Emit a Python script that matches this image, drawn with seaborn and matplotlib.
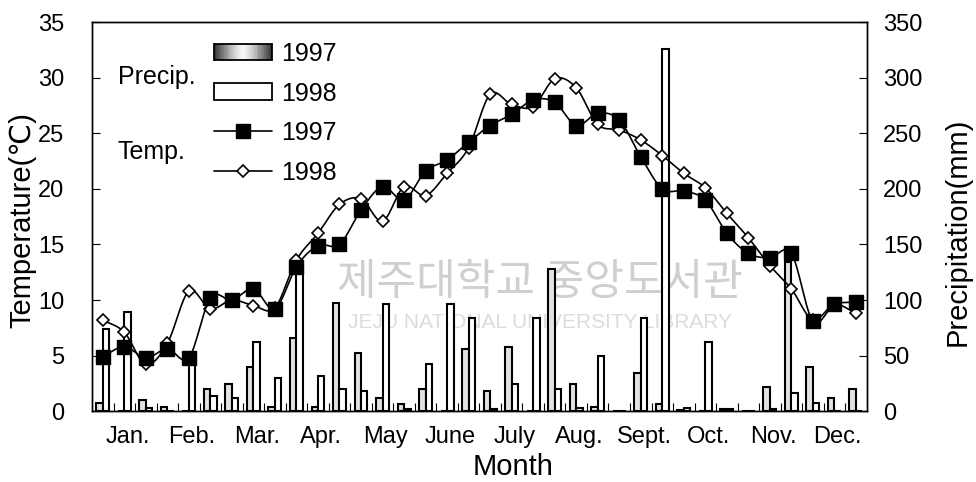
import numpy as np
import pandas as pd
import matplotlib
matplotlib.use("Agg")
from matplotlib import pyplot as plt
from matplotlib.patches import Rectangle
from matplotlib.lines import Line2D
from matplotlib.legend_handler import HandlerBase
import seaborn as sns

# 36 ten-day periods (3 per month)
months = ["Jan.", "Feb.", "Mar.", "Apr.", "May", "June",
          "July", "Aug.", "Sept.", "Oct.", "Nov.", "Dec."]
dekads = list(range(36))

temp_1997 = [4.9, 5.8, 4.8, 5.6, 4.8, 10.2, 10.0, 11.0, 9.2, 13.0, 14.9, 15.0,
             18.1, 20.2, 19.0, 21.6, 22.6, 24.2, 25.7, 26.7, 28.0, 27.8, 25.7, 26.8,
             26.2, 22.9, 20.0, 19.8, 19.0, 16.0, 14.2, 13.8, 14.2, 8.1, 9.6, 9.8]
temp_1998 = [8.2, 7.1, 4.2, 6.1, 10.8, 9.2, 10.0, 9.5, 9.3, 13.6, 16.0, 18.6,
             19.1, 17.1, 20.2, 19.4, 21.4, 23.7, 28.5, 27.6, 27.4, 29.9, 29.1, 25.8,
             25.3, 24.4, 23.0, 21.4, 20.1, 17.8, 15.6, 13.1, 11.0, 8.2, 9.6, 8.8]

prec_1997 = [7.5, 0, 10, 4, 0, 20, 24, 40, 4, 66, 4, 97,
             52, 12, 6, 20, 0, 56, 18, 58, 0, 128, 24, 4,
             0, 34, 6, 1, 0, 1.5, 0, 22, 134, 40, 12, 20]
prec_1998 = [74, 89, 3, 0, 48, 14, 12, 62, 30, 130, 32, 20,
             18, 96, 1.5, 42, 96, 84, 1.5, 24, 84, 20, 3, 50,
             0, 84, 326, 3, 62, 1.5, 0, 1.5, 16, 7, 0, 0]

sns.set_style("ticks")
plt.rcParams["font.family"] = ["Liberation Sans", "DejaVu Sans"]
plt.rcParams["text.color"] = "black"
plt.rcParams["axes.labelcolor"] = "black"
plt.rcParams["xtick.color"] = "black"
plt.rcParams["ytick.color"] = "black"


def smooth(y, n=16):
    # catmull-rom curve through the points (like Excel's smoothed line)
    y = np.asarray(y, dtype=float)
    pts = np.column_stack([np.arange(len(y), dtype=float), y])
    pts = np.vstack([2 * pts[0] - pts[1], pts, 2 * pts[-1] - pts[-2]])
    t = np.linspace(0, 1, n, endpoint=False)[:, None]
    out = []
    for i in range(len(y) - 1):
        p0, p1, p2, p3 = pts[i], pts[i + 1], pts[i + 2], pts[i + 3]
        out.append(0.5 * (2 * p1 + (p2 - p0) * t
                          + (2 * p0 - 5 * p1 + 4 * p2 - p3) * t ** 2
                          + (3 * p1 - p0 - 3 * p2 + p3) * t ** 3))
    out.append(pts[-2][None, :])
    out = np.vstack(out)
    return out[:, 0], out[:, 1]


def shade(t):
    # grey level across the 1997 swatch: dark edges, white middle
    return np.clip(0.97 - 0.78 * np.abs(2 * t - 1) ** 1.3, 0, 1)


class GradientHandler(HandlerBase):
    def create_artists(self, legend, orig_handle, xdescent, ydescent,
                       width, height, fontsize, trans):
        n = 30
        arts = []
        for i in range(n):
            g = shade((i + 0.5) / n)
            arts.append(Rectangle((-xdescent + width * i / n, -ydescent), width / n + 0.3, height,
                                  facecolor=(g, g, g), edgecolor="none", transform=trans))
        arts.append(Rectangle((-xdescent, -ydescent), width, height, facecolor="none",
                              edgecolor="black", linewidth=1.3, transform=trans))
        return arts


fig, ax = plt.subplots(figsize=(9.76, 4.82), dpi=100)
fig.subplots_adjust(left=0.0943, right=0.888, bottom=0.147, top=0.954)
ax2 = ax.twinx()

# precipitation bars (right axis)
df = pd.DataFrame({
    "dekad": dekads * 2,
    "year": ["1997"] * 36 + ["1998"] * 36,
    "prec": prec_1997 + prec_1998,
})
sns.barplot(data=df, x="dekad", y="prec", hue="year", ax=ax2, width=0.6,
            palette={"1997": "#e2e2e2", "1998": "white"}, edgecolor="black",
            linewidth=1.5, saturation=1, errorbar=None, legend=False)
ax2.set_ylim(0, 350)
ax2.set_yticks(range(0, 351, 50))
ax2.set_xlabel("")
ax2.set_ylabel("Precipitation(mm)", fontsize=21)
ax2.yaxis.set_label_coords(1.099, 0.462)
ax2.tick_params(axis="y", direction="in", length=6, width=0.8, labelsize=17, pad=12)

# watermark
ax2.text(0.578, 0.329, "제주대학교 중앙도서관", transform=ax2.transAxes, ha="center", va="center",
         fontsize=31, color="#cfcfcf", family=["Noto Sans CJK KR", "DejaVu Sans"], zorder=0)
ax2.text(0.578, 0.229, "JEJU NATIONAL UNIVERSITY LIBRARY", transform=ax2.transAxes,
         ha="center", va="center", fontsize=15, color="#dcdcdc", zorder=0)

# temperature lines (left axis) on top of the bars
ax.set_zorder(ax2.get_zorder() + 1)
ax.patch.set_visible(False)

xs, ys = smooth(temp_1998)
ax.plot(xs, ys, color="black", lw=1.2)
ax.plot(dekads, temp_1998, ls="none", marker="D", ms=6.5, mfc="white", mec="black", mew=1.2)
xs, ys = smooth(temp_1997)
ax.plot(xs, ys, color="black", lw=1.2)
ax.plot(dekads, temp_1997, ls="none", marker="s", ms=10.5, mfc="black", mec="black")

ax.set_ylim(0, 35)
ax.set_yticks(range(0, 36, 5))
ax.set_xlim(-0.5, 35.5)
ax.set_xticks([1.15 + 3 * i for i in range(12)])
ax.set_xticklabels(months)
ax.set_xticks(np.arange(0.5, 35, 1), minor=True)
ax.tick_params(axis="x", which="major", length=0, labelsize=17, pad=11)
ax.tick_params(axis="x", which="minor", direction="in", length=6, width=0.8)
ax.tick_params(axis="y", direction="in", length=6, width=0.8, labelsize=17, pad=20)
ax.set_xlabel("Month", fontsize=21)
ax.xaxis.set_label_coords(0.543, -0.108)
ax.set_ylabel("Temperature(℃)", fontsize=21)
ax.yaxis.set_label_coords(-0.072, 0.49)

for a in (ax, ax2):
    for s in a.spines.values():
        s.set_linewidth(1.0)
        s.set_color("black")

# legend
handles = [Rectangle((0, 0), 1, 1, facecolor="#e2e2e2", edgecolor="black"),
           Rectangle((0, 0), 1, 1, facecolor="white", edgecolor="black", linewidth=1.3),
           Line2D([], [], color="black", lw=1.2, marker="s", ms=10.5, mfc="black"),
           Line2D([], [], color="black", lw=1.2, marker="D", ms=6.5, mfc="white", mew=1.2)]
ax.legend(handles, ["1997", "1998", "1997", "1998"], handler_map={handles[0]: GradientHandler()},
          loc="upper left", bbox_to_anchor=(0.1574, 0.949), frameon=False, fontsize=18,
          handlelength=2.32, handleheight=0.64, handletextpad=0.36, labelspacing=0.62,
          borderpad=0, borderaxespad=0)
ax.text(0.0335, 0.8586, "Precip.", transform=ax.transAxes, ha="left", va="center", fontsize=18)
ax.text(0.0335, 0.6658, "Temp.", transform=ax.transAxes, ha="left", va="center", fontsize=18)

plt.savefig("out.png", dpi=100)
